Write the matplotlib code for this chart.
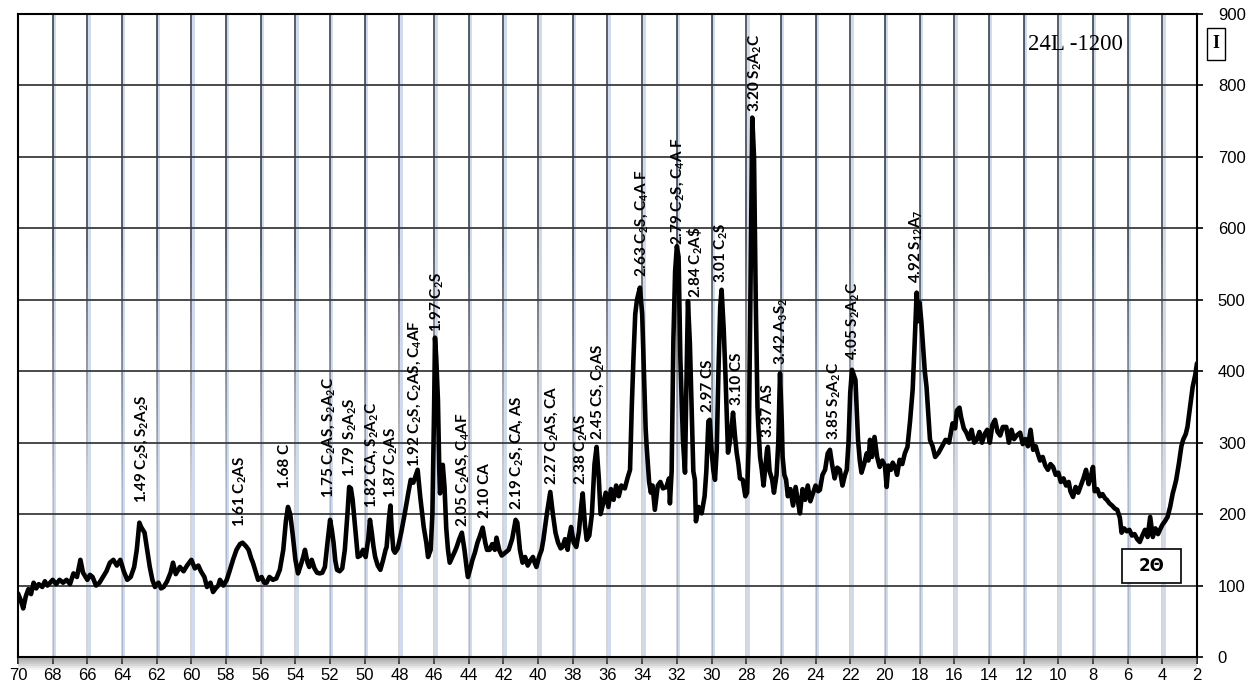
import numpy as np
import matplotlib
matplotlib.use("Agg")
import matplotlib.pyplot as plt
from matplotlib.collections import LineCollection
from matplotlib.patches import Rectangle
import matplotlib.transforms as mtransforms

plt.rcParams["mathtext.fontset"] = "custom"
plt.rcParams["mathtext.default"] = "regular"

# ---- diffraction pattern (2-theta, intensity) ----
two_theta = [
    70.0, 69.85, 69.7, 69.55, 69.4, 69.25, 69.1, 68.95, 68.8, 68.6, 68.45, 68.3, 68.15, 68.0,
    67.8, 67.6, 67.4, 67.2, 67.0, 66.8, 66.6, 66.4, 66.25, 66.1, 66.0, 65.85, 65.7, 65.5, 65.3,
    65.1, 64.9, 64.7, 64.5, 64.3, 64.1, 63.9, 63.7, 63.5, 63.3, 63.15, 63.0, 62.9, 62.7, 62.55,
    62.4, 62.25, 62.1, 61.9, 61.75, 61.6, 61.4, 61.2, 61.06, 60.9, 60.66, 60.45, 60.25, 60.0,
    59.8, 59.6, 59.45, 59.25, 59.1, 58.9, 58.75, 58.6, 58.45, 58.35, 58.15, 57.96, 57.8, 57.6,
    57.4, 57.2, 57.05, 56.85, 56.7, 56.55, 56.45, 56.3, 56.15, 55.95, 55.8, 55.66, 55.5, 55.3,
    55.1, 54.9, 54.7, 54.55, 54.43, 54.3, 54.15, 54.0, 53.85, 53.7, 53.55, 53.45, 53.3, 53.2,
    53.06, 52.9, 52.75, 52.6, 52.45, 52.3, 52.15, 52.0, 51.9, 51.8, 51.7, 51.6, 51.45, 51.3,
    51.15, 51.0, 50.9, 50.8, 50.7, 50.55, 50.4, 50.25, 50.1, 49.95, 49.8, 49.7, 49.6, 49.5,
    49.4, 49.25, 49.1, 48.95, 48.8, 48.74, 48.6, 48.52, 48.45, 48.35, 48.26, 48.1, 47.9, 47.7,
    47.5, 47.35, 47.2, 47.05, 46.95, 46.8, 46.6, 46.45, 46.35, 46.2, 46.1, 46.0, 45.95, 45.88,
    45.78, 45.7, 45.66, 45.55, 45.5, 45.4, 45.3, 45.2, 45.1, 44.95, 44.8, 44.7, 44.55, 44.4,
    44.25, 44.1, 44.05, 43.9, 43.8, 43.65, 43.5, 43.35, 43.2, 43.05, 42.95, 42.8, 42.65, 42.5,
    42.4, 42.25, 42.1, 41.9, 41.7, 41.5, 41.3, 41.2, 41.05, 40.9, 40.75, 40.6, 40.45, 40.3,
    40.2, 40.1, 39.95, 39.8, 39.7, 39.5, 39.3, 39.15, 39.0, 38.85, 38.7, 38.6, 38.45, 38.3,
    38.2, 38.1, 37.95, 37.8, 37.65, 37.5, 37.43, 37.3, 37.2, 37.05, 36.9, 36.75, 36.63, 36.5,
    36.4, 36.25, 36.1, 35.95, 35.8, 35.65, 35.5, 35.35, 35.2, 35.0, 34.85, 34.7, 34.6, 34.5,
    34.4, 34.3, 34.13, 34.0, 33.9, 33.8, 33.74, 33.6, 33.5, 33.4, 33.27, 33.1, 32.95, 32.8,
    32.6, 32.45, 32.4, 32.3, 32.2, 32.1, 32.0, 31.9, 31.8, 31.65, 31.53, 31.45, 31.36, 31.25,
    31.15, 31.05, 30.96, 30.9, 30.75, 30.57, 30.4, 30.3, 30.18, 30.1, 30.0, 29.9, 29.8, 29.7,
    29.6, 29.5, 29.42, 29.3, 29.2, 29.05, 28.95, 28.85, 28.76, 28.65, 28.55, 28.45, 28.36, 28.2,
    28.05, 27.95, 27.85, 27.75, 27.65, 27.55, 27.45, 27.35, 27.3, 27.2, 27.1, 27.0, 26.9, 26.8,
    26.75, 26.65, 26.5, 26.4, 26.25, 26.15, 26.05, 25.95, 25.9, 25.8, 25.7, 25.6, 25.45, 25.3,
    25.15, 25.0, 24.9, 24.75, 24.6, 24.45, 24.3, 24.15, 24.0, 23.85, 23.75, 23.6, 23.45, 23.3,
    23.17, 23.05, 22.9, 22.75, 22.6, 22.45, 22.3, 22.2, 22.1, 22.0, 21.9, 21.8, 21.7, 21.6,
    21.55, 21.45, 21.35, 21.2, 21.05, 20.95, 20.86, 20.75, 20.6, 20.45, 20.3, 20.15, 20.0, 19.9,
    19.8, 19.65, 19.55, 19.4, 19.3, 19.15, 19.0, 18.85, 18.7, 18.55, 18.4, 18.3, 18.2, 18.17,
    18.1, 18.0, 17.9, 17.8, 17.7, 17.6, 17.5, 17.4, 17.25, 17.1, 16.9, 16.7, 16.5, 16.3,
    16.1, 15.95, 15.85, 15.7, 15.6, 15.45, 15.3, 15.15, 15.0, 14.85, 14.7, 14.55, 14.4, 14.25,
    14.1, 13.95, 13.8, 13.65, 13.5, 13.35, 13.2, 13.0, 12.85, 12.7, 12.55, 12.4, 12.2, 12.05,
    11.9, 11.75, 11.6, 11.45, 11.3, 11.2, 11.05, 10.9, 10.75, 10.6, 10.45, 10.3, 10.15, 10.0,
    9.85, 9.7, 9.55, 9.4, 9.3, 9.15, 9.0, 8.85, 8.7, 8.55, 8.4, 8.25, 8.1, 8.0,
    7.9, 7.75, 7.6, 7.45, 7.3, 7.2, 7.05, 6.9, 6.75, 6.6, 6.45, 6.35, 6.2, 6.05,
    5.9, 5.75, 5.6, 5.45, 5.3, 5.15, 5.0, 4.85, 4.7, 4.55, 4.4, 4.25, 4.14, 4.0,
    3.85, 3.7, 3.55, 3.4, 3.3, 3.2, 3.05, 2.9, 2.8, 2.65, 2.55, 2.4, 2.25, 2.1, 2.0,
]
intensity = [
    89, 80, 68, 85, 95, 88, 104, 96, 102, 98, 106, 100, 104, 108,
    102, 108, 104, 108, 102, 117, 112, 136, 118, 112, 108, 115, 112, 100, 104,
    112, 120, 132, 136, 128, 136, 120, 108, 112, 126, 150, 188, 182, 174, 150,
    126, 108, 98, 104, 96, 98, 106, 118, 132, 116, 126, 120, 128, 136,
    124, 128, 120, 112, 98, 104, 91, 96, 100, 108, 100, 108, 120, 136,
    150, 158, 160, 155, 150, 138, 132, 120, 108, 112, 104, 104, 112, 108,
    110, 122, 150, 190, 210, 200, 170, 136, 117, 128, 140, 150, 132, 126,
    136, 124, 118, 117, 118, 126, 160, 192, 178, 160, 135, 122, 120, 124,
    150, 200, 238, 236, 220, 180, 140, 142, 150, 140, 165, 192, 175, 155,
    140, 128, 122, 135, 150, 154, 195, 212, 180, 150, 146, 152, 174, 200,
    228, 248, 244, 255, 262, 224, 182, 160, 140, 150, 200, 350, 447, 420,
    360, 260, 229, 255, 269, 238, 180, 150, 132, 140, 148, 154, 165, 174,
    150, 120, 112, 125, 135, 146, 160, 170, 181, 160, 150, 150, 158, 150,
    167, 150, 142, 146, 150, 165, 192, 188, 150, 132, 140, 128, 135, 140,
    132, 126, 140, 150, 164, 200, 231, 200, 174, 160, 152, 154, 165, 150,
    170, 182, 160, 154, 175, 215, 229, 185, 164, 170, 200, 270, 294, 250,
    200, 215, 230, 210, 235, 220, 240, 225, 240, 236, 250, 262, 350, 420,
    480, 500, 517, 480, 400, 320, 294, 245, 230, 240, 206, 240, 245, 236,
    238, 250, 215, 260, 444, 540, 575, 560, 420, 304, 258, 380, 498, 440,
    350, 260, 248, 190, 210, 201, 225, 260, 330, 332, 290, 262, 248, 290,
    400, 490, 514, 460, 397, 286, 300, 320, 342, 310, 286, 270, 250, 248,
    225, 230, 300, 520, 755, 700, 500, 350, 322, 280, 262, 240, 265, 290,
    294, 260, 248, 230, 255, 300, 397, 330, 280, 255, 248, 225, 235, 212,
    238, 215, 201, 235, 220, 240, 218, 229, 240, 232, 234, 255, 262, 285,
    290, 270, 250, 265, 262, 240, 255, 262, 300, 370, 402, 395, 388, 330,
    304, 275, 258, 270, 285, 275, 304, 280, 308, 280, 266, 275, 268, 238,
    268, 262, 272, 265, 255, 276, 270, 285, 294, 330, 374, 430, 490, 510,
    470, 496, 470, 434, 400, 378, 340, 304, 295, 280, 286, 295, 304, 300,
    327, 320, 345, 349, 335, 320, 314, 305, 318, 300, 304, 315, 300, 312,
    318, 300, 325, 332, 315, 310, 322, 322, 300, 318, 305, 310, 314, 298,
    305, 295, 318, 290, 295, 286, 275, 280, 268, 262, 270, 266, 255, 258,
    245, 250, 240, 245, 232, 224, 238, 230, 240, 250, 262, 242, 255, 266,
    232, 235, 225, 228, 222, 220, 215, 212, 208, 206, 195, 174, 180, 176,
    178, 170, 172, 165, 161, 170, 178, 168, 196, 168, 180, 172, 178, 185,
    190, 196, 210, 229, 238, 248, 270, 295, 304, 312, 322, 350, 378, 395, 411,
]

# ---- peak annotations: d-spacing + phases (cement chemistry notation) ----
label_text = [
    "1.49 C$_2$S, S$_2$A$_2$S", "1.61 C$_2$AS", "1.68 C", "1.75 C$_2$AS, S$_2$A$_2$C",
    "1.79  S$_2$A$_2$S", "1.82 CA, S$_2$A$_2$C", "1.87 C$_2$AS",
    "1.92 C$_2$S, C$_2$AS, C$_4$AF", "1.97 C$_2$S", "2.05 C$_2$AS, C$_4$AF", "2.10 CA",
    "2.19 C$_2$S, CA, AS", "2.27 C$_2$AS, CA", "2.38 C$_2$AS", "2.45 CS, C$_2$AS",
    "2.63 C$_2$S, C$_4$A F", "2.79 C$_2$S, C$_4$A F", r"2.84 C$_2$A\$", "3.01 C$_2$S",
    "2.97 CS", "3.10 CS", "3.20 S$_2$A$_2$C", "3.37 AS", "3.42 A$_3$S$_2$",
    "3.85 S$_2$A$_2$C", "4.05 S$_2$A$_2$C", "4.92 S$_{12}$A$_7$",
]
label_theta = [
    62.87, 57.2, 54.6, 52.1, 50.85, 49.6, 48.45, 47.1, 45.8,
    44.34, 43.07, 41.24, 39.2, 37.5, 36.55, 34.03, 31.94, 30.96, 29.42,
    30.2, 28.55, 27.5, 26.75, 25.96, 22.94, 21.85, 18.17,
]
label_height = [
    216, 182, 237, 223, 252, 209, 223, 266, 455,
    182, 195, 206, 241, 241, 304, 532, 577, 503, 524,
    343, 353, 763, 308, 409, 304, 416, 524,
]

x_ticks = list(range(70, 1, -2))
y_ticks = list(range(0, 901, 100))

W, H = 1254, 688
fig = plt.figure(figsize=(W / 100, H / 100), dpi=100)
ax = fig.add_axes([18 / W, 1 - 657 / H, (1197 - 18) / W, (657 - 14) / H])
ax.set_xlim(70, 2)
ax.set_ylim(0, 900)

# vertical grid: pale blue halo with a dark core fading toward the bottom
blend = mtransforms.blended_transform_factory(ax.transData, ax.transAxes)
n_seg = 80
ys = np.linspace(0, 1, n_seg + 1)
mid = (ys[:-1] + ys[1:]) / 2
for xv in x_ticks[1:-1]:
    ax.plot([xv - 0.08, xv - 0.08], [0, 1], transform=blend, color="#ccd8ec",
            lw=2.0, zorder=1, solid_capstyle="butt")
    segs = [[(xv, ys[i]), (xv, ys[i + 1])] for i in range(n_seg)]
    alpha = np.clip((mid - 0.25) / 0.4, 0.0, 1.0) * 0.7 + 0.25
    cols = [(0.2, 0.22, 0.26, a) for a in alpha]
    lc = LineCollection(segs, colors=cols, linewidths=1.2, transform=blend, zorder=1.5)
    ax.add_collection(lc)

# horizontal grid
for yv in y_ticks[1:-1]:
    ax.axhline(yv, color="#3c3c3c", lw=1.3, zorder=1.5)

# diffraction trace
ax.plot(two_theta, intensity, color="black", lw=3.3, zorder=3,
        solid_joinstyle="round", solid_capstyle="round")

# peak labels
for txt, xt, yt in zip(label_text, label_theta, label_height):
    ax.text(xt, yt, txt, rotation=90, ha="center", va="bottom",
            fontsize=11, fontweight="bold", family=["Lato", "DejaVu Sans"], zorder=4)

# axes styling
for side in ["left", "right", "top", "bottom"]:
    ax.spines[side].set_color("black")
    ax.spines[side].set_linewidth(1.5)
    ax.spines[side].set_zorder(5)

ax.set_xticks(x_ticks)
ax.set_xticklabels([str(v) for v in x_ticks])
ax.yaxis.tick_right()
ax.set_yticks(y_ticks)
ax.set_yticklabels([str(v) for v in y_ticks])
ax.tick_params(axis="x", direction="out", length=5, width=1.2, pad=3,
               labelsize=12, colors="black")
ax.tick_params(axis="y", direction="out", length=4, width=1.2, pad=11,
               labelsize=12, colors="black")
for lbl in ax.get_xticklabels() + ax.get_yticklabels():
    lbl.set_family(["Liberation Sans", "DejaVu Sans"])

# soft shadow under the category axis
for i, a in enumerate([0.6, 0.5, 0.4, 0.3, 0.18, 0.08]):
    fig.patches.append(Rectangle((18 / W, 1 - (658 + 2 * (i + 1)) / H),
                                 (1197 - 18) / W, 2 / H, transform=fig.transFigure,
                                 facecolor="#7a7a7a", alpha=a, edgecolor="none", zorder=0))


def px_box(x0, y0, x1, y1, lw):
    fig.patches.append(Rectangle((x0 / W, 1 - y1 / H), (x1 - x0) / W, (y1 - y0) / H,
                                 transform=fig.transFigure, facecolor="white",
                                 edgecolor="black", linewidth=lw, zorder=6))


# sample name
fig.text(1075 / W, 1 - 45 / H, "24L -1200", ha="center", va="center",
         fontsize=16.5, family=["Liberation Serif", "DejaVu Serif"], zorder=7)

# intensity caption box
px_box(1207, 28, 1225, 60, 1.0)
fig.text(1216 / W, 1 - 44 / H, "I", ha="center", va="center", fontsize=13,
         fontweight="bold", family=["Liberation Serif", "DejaVu Serif"], zorder=7)

# angle caption box
px_box(1122, 549, 1181, 583, 1.2)
fig.text(1151.5 / W, 1 - 566 / H, "2Θ", ha="center", va="center", fontsize=12,
         fontweight="bold", family=["DejaVu Sans"], zorder=7)

fig.savefig("out.png", dpi=100)
